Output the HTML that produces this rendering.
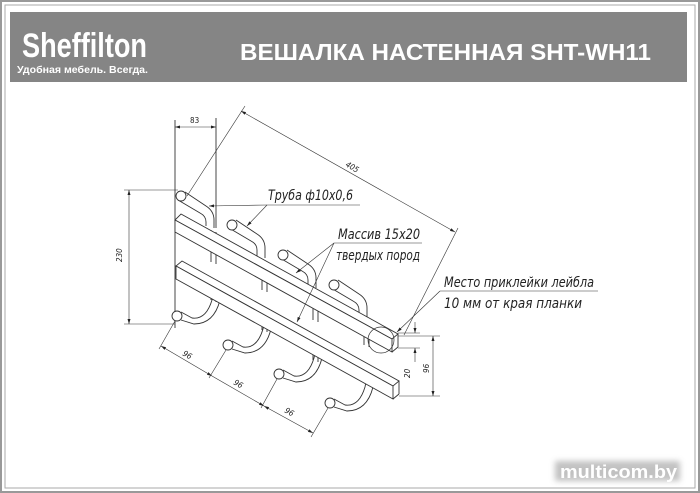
<!DOCTYPE html>
<html><head><meta charset="utf-8"><style>
html,body{margin:0;padding:0;background:#fff;}
#w{position:relative;width:700px;height:493px;overflow:hidden;background:#fff;font-family:"Liberation Sans",sans-serif;}
</style></head><body><div id="w">
<svg width="700" height="493" viewBox="0 0 700 493" xmlns="http://www.w3.org/2000/svg">
<defs>
<marker id="a" viewBox="0 0 10 10" refX="10" refY="5" markerWidth="8" markerHeight="5" orient="auto-start-reverse" markerUnits="userSpaceOnUse"><path d="M0,2 L10,5 L0,8z" fill="#222"/></marker>
<filter id="g" x="-10%" y="-40%" width="120%" height="180%"><feGaussianBlur stdDeviation="3"/></filter>
</defs>
<rect x="1" y="1" width="698" height="491" fill="none" stroke="#999" stroke-width="2"/>
<rect x="5" y="5" width="690" height="483" fill="none" stroke="#aaa" stroke-width="1"/>
<rect x="10" y="12" width="677" height="70" fill="#858585"/>
<text x="22" y="57" font-family="Liberation Sans Narrow,Liberation Sans,sans-serif" font-size="34" font-weight="bold" fill="#fff" textLength="125" lengthAdjust="spacingAndGlyphs">Sheffilton</text>
<text x="17" y="73" font-size="10" font-weight="bold" fill="#fff" textLength="131" lengthAdjust="spacingAndGlyphs">Удобная мебель. Всегда.</text>
<text x="240" y="60" font-size="23" font-weight="bold" fill="#fff" textLength="411" lengthAdjust="spacingAndGlyphs">ВЕШАЛКА НАСТЕННАЯ SHT-WH11</text>
<rect x="555" y="461" width="125" height="20" fill="#999" opacity="0.6" filter="url(#g)"/>
<text x="560" y="478" font-size="18" font-weight="bold" fill="#fff" textLength="117" lengthAdjust="spacingAndGlyphs">multicom.by</text>

<g fill="none" stroke="#333" stroke-width="0.9">
<line x1="175" y1="120" x2="175" y2="328"/>
<line x1="216" y1="118" x2="216" y2="228"/>
<path d="M211 230 V262 M216 232 V264 M262 262V290 M267 264V292 M313 292V320 M318 294V322 M364 322V345 M369 324V347"/>
<path d="M211 278 V300 M216 280 V302 M262 308V330 M267 310V332 M313 338V360 M318 340V362"/>
<g>
<path d="M185 192 L206 206 Q214 211 214 220 V228 M178 200 L200 213 Q206 216 206 222 V226"/>
<path d="M236 220 L257 234 Q265 239 265 248 V258 M229 228 L251 241 Q257 244 257 250 V256"/>
<path d="M287 250 L308 264 Q316 269 316 278 V288 M280 258 L302 271 Q308 274 308 280 V286"/>
<path d="M338 280 L359 294 Q367 299 367 308 V318 M331 288 L353 301 Q359 304 359 310 V316"/>
<circle cx="181" cy="196" r="5" fill="#fff"/><circle cx="232" cy="225" r="5" fill="#fff"/><circle cx="283" cy="255" r="5" fill="#fff"/><circle cx="334" cy="285" r="5" fill="#fff"/>
</g>
<polygon points="181,214 398,334 392,339 175,220" fill="#fff"/>
<polygon points="175,220 392,339 392,352 175,232" fill="#fff"/>
<line x1="398" y1="334" x2="398" y2="347"/><line x1="398" y1="347" x2="392" y2="352"/>
<circle cx="381" cy="340" r="13" stroke-width="0.7"/>
<path d="M181 312 L192 318 Q206 320 212 300 L214 290 M181 320 L194 324 Q214 324 220 300 L220 290"/>
<path d="M232 341 L243 347 Q257 349 263 329 L265 319 M232 349 L245 353 Q265 353 271 329 L271 319"/>
<path d="M283 370 L294 376 Q308 378 314 358 L316 348 M283 378 L296 382 Q316 382 322 358 L322 348"/>
<path d="M334 399 L345 405 Q359 407 365 387 L367 377 M334 407 L347 411 Q367 411 373 387 L373 377"/>
<circle cx="177" cy="316" r="5" fill="#fff"/><circle cx="228" cy="345" r="5" fill="#fff"/><circle cx="279" cy="374" r="5" fill="#fff"/><circle cx="330" cy="403" r="5" fill="#fff"/>
<polygon points="182,261 399,381 393,386 176,266" fill="#fff"/>
<polygon points="176,266 393,386 393,399 176,279" fill="#fff"/>
<line x1="399" y1="381" x2="399" y2="394"/><line x1="399" y1="394" x2="393" y2="399"/>
</g>

<g fill="none" stroke="#333" stroke-width="0.6">
<line x1="175" y1="127" x2="216" y2="127" marker-start="url(#a)" marker-end="url(#a)"/>
<line x1="187" y1="196" x2="245" y2="106"/>
<line x1="404" y1="335" x2="458" y2="228"/>
<line x1="241" y1="111" x2="455" y2="232" marker-start="url(#a)" marker-end="url(#a)"/>
<line x1="124" y1="190" x2="178" y2="190"/><line x1="124" y1="324" x2="175" y2="324"/>
<line x1="129" y1="190" x2="129" y2="324" marker-start="url(#a)" marker-end="url(#a)"/>
<line x1="175" y1="321" x2="159" y2="349"/><line x1="226" y1="350" x2="209" y2="378"/><line x1="277" y1="379" x2="261" y2="408"/><line x1="328" y1="408" x2="311" y2="437"/>
<line x1="161" y1="346" x2="212" y2="376" marker-start="url(#a)" marker-end="url(#a)"/>
<line x1="212" y1="376" x2="264" y2="406" marker-end="url(#a)"/>
<line x1="264" y1="406" x2="313" y2="433" marker-start="url(#a)" marker-end="url(#a)"/>
<line x1="398" y1="333" x2="420" y2="333"/><line x1="398" y1="348" x2="420" y2="348"/>
<line x1="398" y1="336" x2="440" y2="336"/><line x1="399" y1="396" x2="440" y2="396"/>
<line x1="415" y1="322" x2="415" y2="333" marker-end="url(#a)"/><line x1="415" y1="362" x2="415" y2="348" marker-end="url(#a)"/>
<line x1="433" y1="336" x2="433" y2="396" marker-start="url(#a)" marker-end="url(#a)"/>
<line x1="360" y1="205" x2="267" y2="205"/><line x1="267" y1="205" x2="209" y2="206" marker-end="url(#a)"/>
<line x1="267" y1="205" x2="247" y2="226" marker-end="url(#a)"/>
<line x1="422" y1="243" x2="334" y2="243"/><line x1="334" y1="243" x2="296" y2="273" marker-end="url(#a)"/>
<line x1="334" y1="243" x2="297" y2="322" marker-end="url(#a)"/>
<line x1="598" y1="291" x2="440" y2="291"/><line x1="440" y1="291" x2="397" y2="332" marker-end="url(#a)"/>
</g>

<g font-family="DejaVu Sans Condensed,Liberation Sans,sans-serif" font-style="italic" fill="#222">
<text x="190" y="123" font-size="8" font-style="normal">83</text>
<text x="345" y="166" font-size="8" transform="rotate(30 345 166)">405</text>
<text x="122" y="262" font-size="8" transform="rotate(-90 122 262)">230</text>
<text x="182" y="355" font-size="8" transform="rotate(30 182 355)">96</text>
<text x="233" y="384" font-size="8" transform="rotate(30 233 384)">96</text>
<text x="284" y="412" font-size="8" transform="rotate(30 284 412)">96</text>
<text x="410" y="378" font-size="8" transform="rotate(-90 410 378)">20</text>
<text x="429" y="373" font-size="8" transform="rotate(-90 429 373)">96</text>
<g font-size="14" font-weight="normal">
<text x="268" y="200" textLength="85" lengthAdjust="spacingAndGlyphs">Труба ф10х0,6</text>
<text x="338" y="239" textLength="82" lengthAdjust="spacingAndGlyphs">Массив 15х20</text>
<text x="336" y="260" textLength="84" lengthAdjust="spacingAndGlyphs">твердых пород</text>
<text x="444" y="287" textLength="150" lengthAdjust="spacingAndGlyphs">Место приклейки лейбла</text>
<text x="444" y="308" textLength="138" lengthAdjust="spacingAndGlyphs">10 мм от края планки</text>
</g>
</g>
</svg>
</div></body></html>
